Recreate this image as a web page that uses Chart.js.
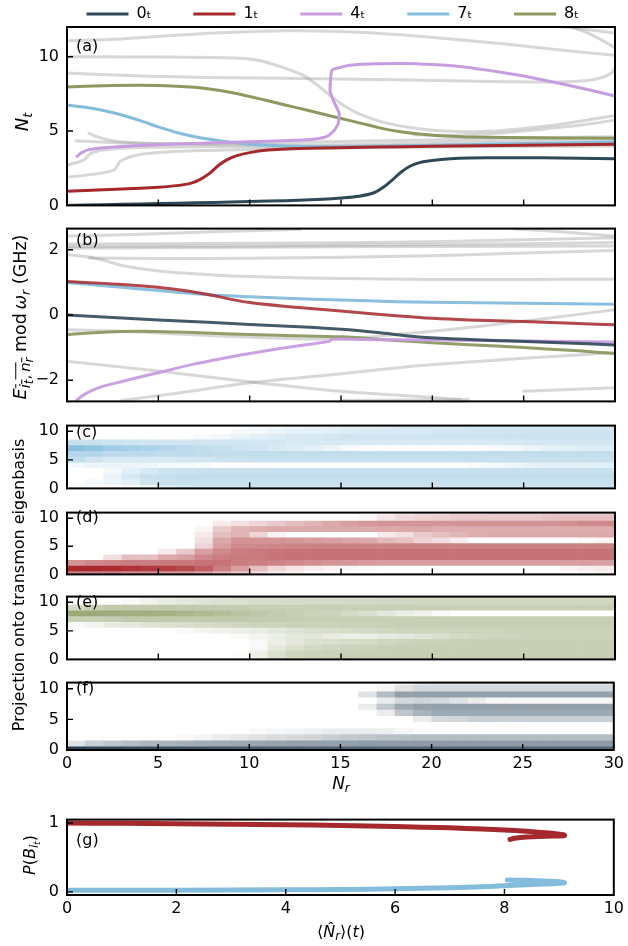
<!DOCTYPE html>
<html>
<head>
<meta charset="utf-8">
<script src="https://cdn.jsdelivr.net/npm/chart.js@4.4.1/dist/chart.umd.min.js"></script>
<style>
  body { margin: 0; background: #fff; }
  #fig { position: relative; width: 628px; height: 946px; overflow: hidden; font-family: "DejaVu Sans", sans-serif; color: #000; }
  #fig canvas { position: absolute; left: 0; }
  .txt { position: absolute; white-space: nowrap; line-height: 1; font-size: 16px; z-index: 5; }
  .ctr { transform: translate(-50%, -50%); }
  .rot { transform: translate(-50%, -50%) rotate(-90deg); }
  .txt sub { font-size: 72%; vertical-align: -0.3em; line-height: 0; }
  .txt sub sub { font-size: 80%; vertical-align: -0.25em; }
  .ovl { text-decoration: overline; }
</style>
</head>
<body>
<div id="fig">
  <div class="txt" style="left:76px;top:38px">(a)</div>
  <div class="txt" style="left:76px;top:232px">(b)</div>
  <div class="txt" style="left:76px;top:424px">(c)</div>
  <div class="txt" style="left:76px;top:509px">(d)</div>
  <div class="txt" style="left:76px;top:594px">(e)</div>
  <div class="txt" style="left:76px;top:680px">(f)</div>
  <div class="txt" style="left:76px;top:832px">(g)</div>

  <div class="txt rot" style="left:22px;top:122px;font-size:18px"><i>N</i><sub><i>t</i></sub></div>
  <div class="txt rot" style="left:21px;top:317px;font-size:17.5px"><i>E</i><sub style="font-size:85%"><span class="ovl"><i>i</i><sub><i>t</i></sub>,&thinsp;<i>n</i><sub><i>r</i></sub></span></sub> mod&thinsp;<i>ω</i><sub><i>r</i></sub> (GHz)</div>
  <div class="txt rot" style="left:19px;top:585px">Projection onto transmon eigenbasis</div>
  <div class="txt ctr" style="left:341px;top:783px;font-size:17px"><i>N</i><sub><i>r</i></sub></div>
  <div class="txt rot" style="left:30px;top:855px"><i>P</i>(<i>B</i><sub><i>i</i><sub><i>t</i></sub></sub>)</div>
  <div class="txt ctr" style="left:341px;top:932px">⟨<i>N̂</i><sub><i>r</i></sub>⟩(<i>t</i>)</div>
</div>
<script>
// ---------- line data: (N_r, value) pairs ----------
// (a) transmon occupation N_t of the dressed branches
const a_0t = [[0,0],[2,0.05],[4,0.1],[6,0.15],[8,0.2],[10,0.26],[12,0.32],[14,0.42],[15,0.5],[16,0.62],[16.8,0.85],[17.3,1.2],[17.8,1.7],[18.3,2.25],[18.8,2.65],[19.3,2.88],[20,3.02],[21,3.13],[22,3.18],[24,3.21],[26,3.2],[28,3.17],[30,3.13]];
const a_1t = [[0,0.95],[2,1.05],[4,1.15],[5,1.22],[6,1.33],[6.8,1.5],[7.3,1.75],[7.8,2.15],[8.3,2.7],[8.8,3.1],[9.3,3.35],[10,3.55],[11,3.72],[12,3.8],[14,3.86],[17,3.92],[20,3.98],[25,4.05],[30,4.12]];
const a_4t = [[0.55,3.3],[0.8,3.55],[1.2,3.75],[2,3.88],[3,3.97],[5,4.08],[7,4.17],[9,4.25],[11,4.32],[12.5,4.38],[13.5,4.45],[14.2,4.62],[14.6,5.0],[14.85,5.5],[14.9,6.2],[14.6,7.0],[14.4,7.7],[14.5,9.1],[15,9.3],[15.5,9.43],[17,9.52],[18.5,9.54],[20,9.47],[21.5,9.35],[23,9.1],[25,8.7],[27,8.2],[28.5,7.8],[30,7.36]];
const a_7t = [[0,6.75],[1,6.6],[2,6.38],[3,6.08],[4,5.7],[5,5.28],[6,4.9],[7,4.62],[8,4.42],[9,4.25],[10,4.12],[12,4.0],[15,3.95],[18,4.0],[21,4.06],[24,4.14],[27,4.2],[30,4.27]];
const a_8t = [[0,7.97],[2,8.05],[4,8.08],[6,8.02],[7,7.94],[8,7.8],[9,7.6],[10,7.32],[11,7.04],[12,6.74],[13,6.45],[14,6.15],[15,5.85],[16,5.55],[17,5.25],[18,5.0],[19,4.83],[20,4.72],[21,4.65],[22,4.6],[24,4.56],[27,4.54],[30,4.52]];
const a_other = [
  [[0,11.07],[3,11.2],[6,11.45],[9,11.65],[12,11.75],[15,11.7],[18,11.5],[21,11.2],[24,10.85],[27,10.45],[30,10.1]],
  [[26.5,12.1],[28,11.9],[30,11.6]],
  [[27.5,12.05],[28.5,11.6],[29.3,11.1],[30,10.6]],
  [[0,10.0],[4,9.98],[8,9.95],[10,9.85],[11,9.6],[12,9.2],[13,8.7],[13.8,8.0],[14.6,7.2],[15.3,6.6],[16,6.15],[17,5.7],[18,5.4],[19,5.2],[20,5.05],[22,4.95],[24,5.05],[26,5.3],[28,5.65],[30,6.05]],
  [[19,4.75],[21,4.72],[23,4.8],[25,5.0],[27,5.25],[29,5.55],[30,5.75]],
  [[0,8.9],[3,8.75],[6,8.65],[9,8.58],[12,8.55],[15,8.5],[18,8.45],[21,8.38],[24,8.32],[27,8.3],[28.5,8.4],[29.3,8.6],[29.8,8.9],[30,9.2]],
  [[1.2,4.85],[1.8,4.55],[2.5,4.35],[4,4.2],[8,4.1],[12,4.05],[16,4.1],[20,4.2],[25,4.35],[30,4.45]],
  [[0,2.7],[0.9,3.05],[1.3,3.5],[2.1,3.75],[4,3.9],[8,3.95],[12,3.95],[16,4.0],[20,4.05],[25,4.1],[30,4.15]],
  [[0,1.9],[1.6,2.12],[2.6,2.4],[2.95,3.0],[4,3.43],[6.2,3.65],[9.5,3.75],[14,3.85],[20,3.92],[25,3.97],[30,4.0]],
  [[0.5,4.35],[3,4.2],[6,4.15],[10,4.2],[15,4.3],[20,4.4],[25,4.55],[30,4.62]]
];

// (b) quasienergies modulo the resonator frequency (GHz)
const b_0t = [[0,0],[3,-0.09],[5,-0.15],[8,-0.23],[10,-0.29],[13,-0.37],[15,-0.44],[17,-0.54],[19,-0.66],[21,-0.73],[24,-0.79],[27,-0.85],[30,-0.92]];
const b_1t = [[0,1.03],[2,0.97],[4,0.9],[5,0.85],[6,0.78],[7,0.7],[8,0.6],[9,0.48],[10,0.38],[12,0.26],[15,0.12],[18,-0.02],[20,-0.1],[22,-0.15],[25,-0.2],[28,-0.26],[30,-0.3]];
const b_4t = [[0.55,-2.6],[1,-2.42],[1.5,-2.28],[2,-2.18],[3,-2.04],[4,-1.9],[5,-1.77],[6,-1.63],[7,-1.5],[8,-1.39],[9,-1.28],[10,-1.18],[11,-1.09],[12,-1.0],[13,-0.92],[14,-0.84],[14.4,-0.8],[14.5,-0.74],[16,-0.75],[20,-0.77],[25,-0.8],[30,-0.83]];
const b_7t = [[0,1.0],[2,0.9],[4,0.8],[6,0.7],[8,0.61],[10,0.56],[12,0.51],[15,0.46],[18,0.41],[20,0.39],[25,0.36],[30,0.33]];
const b_8t = [[0,-0.6],[2,-0.53],[4,-0.5],[6,-0.52],[8,-0.56],[10,-0.6],[12,-0.63],[15,-0.67],[18,-0.78],[20,-0.85],[22,-0.91],[25,-1.0],[28,-1.1],[30,-1.18]];
const b_other = [
  [[0,2.42],[4,2.48],[8,2.55],[12.8,2.63]],
  [[24.5,2.64],[27,2.55],[30,2.42]],
  [[0,2.18],[10,2.2],[20,2.25],[30,2.37]],
  [[0,2.1],[10,2.12],[20,2.16],[30,2.22]],
  [[0,2.05],[10,2.08],[20,2.1],[30,2.12]],
  [[0,1.85],[1.2,1.78],[2,1.68],[3,1.52],[5,1.35],[8,1.23],[10,1.18],[15,1.12],[20,1.09],[25,1.09],[30,1.1]],
  [[1.2,1.75],[5,1.73],[10,1.74],[15,1.77],[20,1.82],[25,1.9],[30,1.98]],
  [[0,-0.45],[3,-0.5],[6,-0.58],[9,-0.66],[12,-0.72],[14,-0.74],[16,-0.7],[18,-0.6],[20,-0.5],[23,-0.32],[26,-0.12],[30,0.16]],
  [[0,-1.42],[5,-1.72],[10,-2.05],[15,-2.34],[20,-2.53],[22,-2.6]],
  [[3,-2.62],[6,-2.4],[10,-2.08],[15,-1.8],[20,-1.52],[25,-1.33],[30,-1.15]],
  [[25,-2.34],[30,-2.23]],
  [[15,-2.62],[21.5,-2.6]]
];

// (g) branch populations versus mean photon number
const g_1t = [[0,1.0],[1,0.996],[2,0.99],[3,0.984],[4,0.976],[5,0.965],[6,0.95],[7,0.93],[7.6,0.912],[8.2,0.89],[8.6,0.868],[8.9,0.85],[9.08,0.832],[9.1,0.82],[8.9,0.812],[8.6,0.805],[8.35,0.795],[8.18,0.78],[8.1,0.762]];
const g_7t = [[0,0.025],[2,0.025],[4,0.03],[5,0.035],[6,0.045],[7,0.06],[7.6,0.075],[8.2,0.095],[8.6,0.11],[8.9,0.12],[9.08,0.128],[9.1,0.135],[8.95,0.15],[8.7,0.16],[8.4,0.168],[8.15,0.17],[8.05,0.172]];

// ---------- projection maps: rows = transmon level 0..11, columns = N_r cells ----------
const nrCols = [0.5,1.5,2.5,3.5,4.5,5.5,6.5,7.5,8.5,9.5,10.5,11.5,12.5,13.5,14.5,15.5,16.5,17.5,18.5,19.5,20.5,21.5,22.5,23.5,24.5,25.5,26.5,27.5,28.5,29.5];
const projC = [
  [0,0,0,0,.1,.2,.3,.35,.35,.35, .35,.35,.35,.35,.35,.35,.35,.35,.35,.35, .35,.35,.35,.35,.35,.35,.35,.35,.35,.35],
  [0,.1,.15,.2,.35,.4,.4,.4,.4,.4, .4,.4,.4,.4,.4,.4,.4,.4,.4,.4, .4,.4,.4,.4,.4,.4,.4,.4,.4,.4],
  [0,0,.15,.3,.4,.42,.45,.45,.45,.45, .45,.45,.45,.45,.45,.45,.45,.45,.45,.45, .45,.45,.45,.45,.45,.45,.45,.45,.45,.45],
  [0,0,.1,.2,.3,.35,.38,.4,.4,.4, .4,.42,.42,.42,.42,.42,.42,.42,.42,.42, .42,.42,.42,.42,.42,.42,.42,.42,.42,.42],
  [.1,.15,.15,.15,.12,.1,.08,.05,0,0, 0,0,0,0,0,0,0,0,0,0, 0,0,.05,.1,.15,.18,.2,.2,.22,.22],
  [.45,.35,.3,.3,.3,.3,.32,.34,.36,.38, .4,.42,.42,.42,.42,.42,.42,.42,.42,.42, .42,.42,.42,.42,.42,.42,.42,.42,.42,.42],
  [.55,.55,.5,.5,.5,.48,.48,.46,.45,.45, .45,.45,.45,.45,.45,.45,.45,.45,.45,.45, .45,.45,.45,.45,.45,.45,.45,.45,.45,.45],
  [.85,.8,.7,.65,.6,.55,.5,.45,.42,.38, .35,.3,.25,.2,.15,.05,0,0,0,0, 0,0,0,.05,.1,.15,.2,.22,.25,.25],
  [.4,.4,.38,.36,.35,.35,.35,.35,.35,.35, .33,.32,.3,.3,.3,.3,.3,.3,.3,.3, .3,.3,.3,.3,.3,.32,.32,.32,.32,.32],
  [0,0,0,0,0,0,0,.05,.1,.15, .2,.25,.28,.3,.32,.35,.35,.35,.35,.36, .37,.38,.38,.38,.38,.38,.38,.38,.38,.38],
  [0,0,0,0,0,0,0,0,0,.05, .1,.15,.18,.2,.22,.25,.27,.28,.3,.3, .32,.33,.35,.35,.35,.35,.35,.35,.35,.35],
  [0,0,0,0,0,0,0,0,0,0, .05,.08,.1,.12,.15,.18,.2,.2,.22,.24, .25,.27,.28,.3,.3,.3,.3,.3,.3,.3]
];
const projD = [
  [.6,.6,.6,.55,.55,.5,.5,.45,.35,.25, .15,.08,.05,0,0,0,0,0,0,0, 0,0,0,0,0,0,0,0,.03,.05],
  [1,1,.98,.95,.92,.9,.85,.75,.6,.45, .3,.18,.12,.08,.05,.03,.02,0,0,0, 0,0,0,0,0,0,0,.05,.08,.1],
  [.5,.55,.58,.6,.6,.62,.62,.65,.65,.6, .6,.58,.55,.52,.5,.48,.46,.45,.45,.45, .45,.45,.45,.45,.45,.45,.45,.45,.45,.45],
  [0,0,.15,.3,.3,.4,.45,.55,.6,.62, .62,.64,.65,.65,.65,.65,.65,.65,.65,.65, .65,.65,.65,.65,.65,.65,.65,.65,.65,.65],
  [0,0,0,0,0,.1,.25,.45,.55,.6, .62,.64,.65,.65,.65,.65,.65,.65,.65,.65, .65,.65,.65,.65,.65,.65,.65,.65,.65,.65],
  [0,0,0,0,0,0,0,.2,.45,.55, .55,.56,.57,.58,.58,.58,.58,.58,.58,.58, .58,.58,.58,.58,.58,.58,.58,.58,.58,.58],
  [0,0,0,0,0,0,0,.15,.4,.5, .5,.5,.48,.46,.44,.42,.4,.32,.28,.2, .15,.08,0,0,0,0,0,0,.03,.05],
  [0,0,0,0,0,0,0,.1,.3,.35, .2,.05,0,0,0,0,0,.1,.15,.25, .3,.35,.38,.4,.4,.4,.4,.4,.4,.4],
  [0,0,0,0,0,0,0,.05,.25,.35, .38,.4,.4,.4,.4,.4,.4,.4,.4,.4, .38,.38,.38,.38,.38,.38,.38,.38,.38,.38],
  [0,0,0,0,0,0,0,0,.1,.15, .2,.25,.3,.35,.4,.45,.48,.5,.5,.5, .5,.5,.5,.5,.5,.5,.5,.52,.55,.55],
  [0,0,0,0,0,0,0,0,0,0, 0,0,0,0,0,0,.05,.12,.18,.2, .22,.24,.25,.25,.25,.25,.28,.3,.3,.3],
  [0,0,0,0,0,0,0,0,0,0, 0,0,0,0,0,0,0,.05,.1,.15, .18,.2,.2,.22,.22,.22,.24,.25,.25,.25]
];
const projE = [
  [0,0,0,0,0,0,0,0,0,.02, .12,.3,.38,.4,.42,.44,.45,.45,.45,.45, .45,.45,.45,.45,.45,.45,.45,.45,.45,.45],
  [0,0,0,0,0,0,0,0,0,.02, .15,.3,.38,.4,.42,.44,.45,.45,.45,.45, .45,.45,.45,.45,.45,.45,.45,.45,.45,.45],
  [0,0,0,0,0,0,0,0,0,0, .05,.2,.3,.35,.38,.4,.42,.44,.45,.45, .45,.45,.45,.45,.45,.45,.45,.45,.45,.45],
  [0,0,0,0,0,0,0,0,0,0, .05,.15,.22,.28,.3,.32,.35,.38,.4,.42, .42,.44,.45,.45,.45,.45,.45,.45,.45,.45],
  [0,0,0,0,0,0,0,0,0,.05, .1,.15,.2,.22,.18,.15,.15,.2,.22,.25, .3,.35,.38,.4,.4,.42,.42,.42,.42,.42],
  [0,0,0,0,0,0,.05,.1,.12,.15, .18,.22,.26,.3,.32,.34,.36,.38,.4,.4, .4,.4,.4,.4,.42,.42,.42,.42,.42,.42],
  [.05,.1,.18,.22,.26,.3,.32,.34,.36,.38, .4,.4,.42,.42,.42,.43,.44,.44,.45,.45, .45,.45,.45,.45,.45,.45,.45,.45,.45,.45],
  [.45,.45,.48,.5,.5,.5,.5,.5,.5,.5, .48,.48,.47,.46,.45,.45,.45,.45,.45,.45, .45,.45,.45,.45,.45,.45,.45,.45,.45,.45],
  [.8,.8,.78,.76,.75,.72,.68,.64,.6,.55, .52,.48,.45,.42,.4,.35,.3,.22,.15,.1, .05,0,0,0,0,0,0,0,0,0],
  [.35,.45,.5,.5,.5,.5,.5,.48,.48,.47, .46,.46,.45,.45,.45,.45,.45,.45,.45,.45, .45,.45,.45,.45,.45,.45,.45,.45,.45,.45],
  [0,0,0,.05,.12,.18,.22,.25,.28,.3, .32,.33,.34,.35,.35,.36,.36,.37,.37,.38, .38,.38,.38,.38,.38,.38,.38,.38,.38,.38],
  [0,0,0,0,.1,.15,.2,.22,.25,.28, .3,.3,.3,.3,.32,.32,.33,.33,.34,.34, .35,.35,.35,.35,.35,.35,.35,.35,.35,.35]
];
const projF = [
  [1,.97,.95,.93,.92,.9,.89,.88,.87,.86, .85,.84,.83,.82,.82,.81,.81,.8,.8,.8, .8,.8,.8,.8,.8,.8,.8,.8,.8,.8],
  [.15,.25,.3,.35,.38,.4,.42,.44,.45,.46, .47,.48,.5,.5,.5,.5,.52,.52,.52,.52, .52,.52,.52,.52,.52,.52,.52,.52,.52,.52],
  [0,0,0,0,0,0,.03,.06,.1,.12, .15,.18,.2,.22,.25,.28,.3,.32,.33,.35, .35,.35,.35,.35,.35,.35,.35,.35,.35,.35],
  [0,0,0,0,0,0,0,0,0,0, .03,.05,.06,.08,.1,.1,.1,.08,.05,.02, 0,0,0,0,0,0,0,0,0,0],
  [0,0,0,0,0,0,0,0,0,0, 0,0,0,0,0,0,0,0,0,0, 0,0,0,0,0,0,0,0,0,0],
  [0,0,0,0,0,0,0,0,0,0, 0,0,0,0,0,0,0,0,0,.1, .2,.22,.25,.25,.25,.25,.25,.25,.25,.25],
  [0,0,0,0,0,0,0,0,0,0, 0,0,0,0,0,0,0,.1,.3,.4, .45,.45,.45,.45,.45,.45,.45,.45,.45,.45],
  [0,0,0,0,0,0,0,0,0,0, 0,0,0,0,0,0,.1,.3,.45,.5, .5,.5,.5,.5,.5,.5,.5,.5,.5,.5],
  [0,0,0,0,0,0,0,0,0,0, 0,0,0,0,0,0,0,.1,.2,.22, .2,.15,.1,.05,.05,.05,.05,.05,.05,.05],
  [0,0,0,0,0,0,0,0,0,0, 0,0,0,0,0,0,.15,.35,.5,.5, .5,.5,.5,.5,.5,.5,.5,.5,.5,.5],
  [0,0,0,0,0,0,0,0,0,0, 0,0,0,0,0,0,0,.05,.15,.2, .2,.2,.2,.2,.2,.2,.2,.2,.2,.2],
  [0,0,0,0,0,0,0,0,0,0, 0,0,0,0,0,0,0,0,.05,.12, .15,.15,.15,.15,.15,.15,.15,.15,.15,.15]
];

// ---------- styling ----------
const COL = { t0: '#2f4858', t1: '#a4282c', t4: '#c79ddf', t7: '#84bcdb', t8: '#8c9a62' };
const GREY = 'rgba(150,150,150,0.38)';
const BASE = { c: [120,181,216], d: [168,40,45], e: [130,148,90], f: [40,65,85] };
const AREA_L = 67, W = 628;

Chart.defaults.font.family = "'DejaVu Sans', sans-serif";
Chart.defaults.font.size = 16;
Chart.defaults.color = '#000';
Chart.defaults.animation = false;

// boxed frame with inward tick marks, drawn from the scales' own ticks
const framePlugin = {
  id: 'frame',
  afterDatasetsDraw(chart) {
    const { ctx, chartArea: a, scales } = chart;
    const len = 6;
    ctx.save();
    ctx.strokeStyle = '#000';
    ctx.lineWidth = 1.4;
    ctx.beginPath();
    scales.x.ticks.forEach(t => {
      const px = scales.x.getPixelForValue(t.value);
      if (px > a.left + 1 && px < a.right - 1) { ctx.moveTo(px, a.bottom); ctx.lineTo(px, a.bottom - len); }
    });
    scales.y.ticks.forEach(t => {
      const py = scales.y.getPixelForValue(t.value);
      if (py > a.top + 0.5 && py < a.bottom - 1) { ctx.moveTo(a.left, py); ctx.lineTo(a.left + len, py); }
    });
    ctx.stroke();
    ctx.lineWidth = 2;
    ctx.strokeRect(a.left, a.top, a.right - a.left, a.bottom - a.top);
    ctx.restore();
  }
};

const fig = document.getElementById('fig');
function addCanvas(top, height) {
  const c = document.createElement('canvas');
  c.width = W; c.height = height;
  c.style.top = top + 'px';
  c.style.width = W + 'px'; c.style.height = height + 'px';
  fig.appendChild(c);
  return c;
}
const minus = v => String(v).replace('-', '\u2212');

function xAxis(min, max, step, showLabels, height) {
  return {
    type: 'linear', min, max, offset: false,
    grid: { display: false, drawTicks: false }, border: { display: false },
    ticks: { stepSize: step, includeBounds: false, display: showLabels, padding: 4, maxRotation: 0, callback: minus },
    afterFit(s) { s.height = height; }
  };
}
function yAxis(min, max, step, width) {
  return {
    type: 'linear', min, max,
    grid: { display: false, drawTicks: false }, border: { display: false },
    ticks: { stepSize: step, includeBounds: false, padding: 8, callback: minus },
    afterFit(s) { s.width = width; }
  };
}
function line(label, pts, color, width, tension) {
  return {
    label, data: pts.map(([x, y]) => ({ x, y })),
    borderColor: color, backgroundColor: color, borderWidth: width,
    pointRadius: 0, showLine: true, tension, fill: false,
    borderCapStyle: 'round', borderJoinStyle: 'round'
  };
}
function fade(hex, alpha) {
  const n = parseInt(hex.slice(1), 16);
  return `rgba(${n >> 16},${(n >> 8) & 255},${n & 255},${alpha})`;
}
function shade(base, v) {
  return `rgb(${base.map(c => Math.round(255 + (c - 255) * v)).join(',')})`;
}
const noHover = { legend: { display: false }, tooltip: { enabled: false } };

// ---------- (a) N_t ----------
new Chart(addCanvas(-36, 259), {
  type: 'scatter',
  data: { datasets: [
    line('0\u209C', a_0t, COL.t0, 3, 0.3),
    line('1\u209C', a_1t, COL.t1, 3, 0.3),
    line('4\u209C', a_4t, COL.t4, 3, 0.15),
    line('7\u209C', a_7t, COL.t7, 3, 0.3),
    line('8\u209C', a_8t, COL.t8, 3, 0.3),
    ...a_other.map(p => line('', p, GREY, 3, 0.3))
  ] },
  options: {
    responsive: false, events: [],
    layout: { padding: { left: 0, right: 7, top: 0, bottom: 0 } },
    scales: {
      x: xAxis(0, 30, 5, false, 12),
      y: yAxis(0, 12, 5, AREA_L),
      // empty right-hand strip so the legend row can reach past the frame
      yR: { position: 'right', display: true, grid: { display: false, drawTicks: false }, border: { display: false },
            ticks: { display: false }, afterFit(s) { s.width = 6; } }
    },
    plugins: {
      tooltip: { enabled: false },
      legend: {
        display: true, position: 'top', align: 'end', maxHeight: 63,
        labels: {
          boxWidth: 42, boxHeight: 3, padding: 42, color: '#000', font: { size: 16 },
          generateLabels(chart) {
            return chart.data.datasets
              .map((d, i) => ({ text: d.label, fillStyle: d.borderColor, strokeStyle: d.borderColor, lineWidth: 0, hidden: false, datasetIndex: i }))
              .filter(it => it.text);
          }
        }
      }
    }
  },
  plugins: [framePlugin]
});

// ---------- (b) quasienergies ----------
new Chart(addCanvas(211, 208), {
  type: 'scatter',
  data: { datasets: [
    line('0t', b_0t, fade(COL.t0, 0.9), 3, 0.3),
    line('1t', b_1t, fade(COL.t1, 0.85), 3, 0.3),
    line('4t', b_4t, fade(COL.t4, 0.95), 3, 0.2),
    line('7t', b_7t, fade(COL.t7, 0.95), 3, 0.3),
    line('8t', b_8t, fade(COL.t8, 0.95), 3, 0.3),
    ...b_other.map(p => line('', p, GREY, 3, 0.3))
  ] },
  options: {
    responsive: false, events: [],
    layout: { padding: { left: 0, right: 13, top: 12, bottom: 0 } },
    scales: { x: xAxis(0, 30, 5, false, 12), y: yAxis(-2.65, 2.65, 2, AREA_L) },
    plugins: noHover
  },
  plugins: [framePlugin]
});

// ---------- (c)-(f) projections ----------
function heatmap(rows, base) {
  return rows.map((row, n) => ({
    data: row.map((v, i) => ({ x: nrCols[i], y: [Math.max(0, n - 0.5), Math.min(11, n + 0.5)] })),
    backgroundColor: row.map(v => shade(base, v)),
    borderWidth: 0, barPercentage: 1, categoryPercentage: 1, grouped: false
  }));
}
function heatChart(top, bottom, rows, base, showX) {
  const hx = showX ? 30 : 12;
  new Chart(addCanvas(top - 12, bottom - top + 12 + hx), {
    type: 'bar',
    data: { datasets: heatmap(rows, base) },
    options: {
      responsive: false, events: [],
      layout: { padding: { left: 0, right: 13, top: 12, bottom: 0 } },
      scales: { x: xAxis(0, 30, 5, showX, hx), y: yAxis(0, 11, 5, AREA_L) },
      plugins: noHover
    },
    plugins: [framePlugin]
  });
}
heatChart(420, 494, projC, BASE.c, false);
heatChart(507, 580, projD, BASE.d, false);
heatChart(591, 665, projE, BASE.e, false);
heatChart(677, 750, projF, BASE.f, true);

// ---------- (g) populations ----------
new Chart(addCanvas(802, 123), {
  type: 'scatter',
  data: { datasets: [
    line('1t', g_1t, COL.t1, 5, 0.3),
    line('7t', g_7t, COL.t7, 5, 0.3)
  ] },
  options: {
    responsive: false, events: [],
    layout: { padding: { left: 0, right: 13, top: 12, bottom: 0 } },
    scales: { x: xAxis(0, 10, 2, true, 30), y: yAxis(-0.045, 1.05, 1, AREA_L) },
    plugins: noHover
  },
  plugins: [framePlugin]
});
</script>
</body>
</html>
